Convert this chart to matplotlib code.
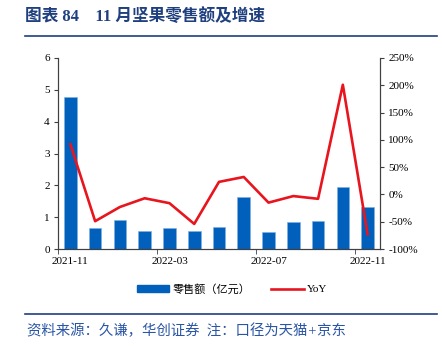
import matplotlib.pyplot as plt
from matplotlib.lines import Line2D
from matplotlib.patches import Patch
from matplotlib.ticker import FuncFormatter

months = ["2021-11", "2021-12", "2022-01", "2022-02", "2022-03", "2022-04", "2022-05",
          "2022-06", "2022-07", "2022-08", "2022-09", "2022-10", "2022-11"]
sales = [4.79, 0.67, 0.91, 0.58, 0.65, 0.56, 0.68, 1.63, 0.54, 0.85, 0.89, 1.94, 1.32]
yoy = [92, -49, -23, -7, -16, -54, 23, 32, -15, -3, -8, 201, -73]
tick_labels = ["2021-11", "2022-03", "2022-07", "2022-11"]

bar_color = "#0060BC"
line_color = "#E8141E"
navy = "#1F3F7F"
serif = ["Liberation Serif", "Noto Sans CJK SC"]

plt.rcParams["font.family"] = serif
plt.rcParams["font.size"] = 8

fig = plt.figure(figsize=(4.42, 3.46), dpi=100)
ax = fig.add_axes([0.1312, 0.2803, 0.7285, 0.5521])
x = list(range(len(months)))
ax.bar(x, sales, width=0.51, color=bar_color, edgecolor="#7FB0E0", linewidth=0.4, zorder=2)
ax.set_ylim(0, 6)
ax.set_xlim(-0.5, len(months) - 0.5)
ax.set_yticks(range(0, 7))

ax2 = ax.twinx()
ax2.plot(x, yoy, color=line_color, linewidth=1.9, zorder=3)
ax2.set_ylim(-100, 250)
ax2.set_yticks(range(-100, 251, 50))
ax2.yaxis.set_major_formatter(FuncFormatter(lambda v, p: f"{int(v)}%"))

ax.set_xticks([0, 4, 8, 12])
ax.set_xticklabels(tick_labels)
ax.set_xticks([-0.5, 3.5, 7.5, 11.5], minor=True)
ax.tick_params(axis="x", which="major", length=0, pad=6)
ax.tick_params(axis="x", which="minor", length=3.5, direction="out", color="#404040")
ax.tick_params(axis="y", length=3, color="#404040", pad=3)
ax2.tick_params(axis="y", length=3, color="#404040", pad=3)

for a in (ax, ax2):
    a.spines["top"].set_visible(False)
    for s in ("left", "right", "bottom"):
        a.spines[s].set_color("#404040")
        a.spines[s].set_linewidth(0.8)

handles = [Patch(facecolor=bar_color, edgecolor=bar_color),
           Line2D([0], [0], color=line_color, linewidth=1.9)]
fig.legend(handles, ["零售额（亿元）", "YoY"], loc="center", bbox_to_anchor=(0.525, 0.1647),
           ncol=2, frameon=False, handlelength=2.9, handleheight=0.55,
           columnspacing=1.9, handletextpad=0.3, fontsize=8)

fig.text(0.057, 0.951, "图表 84    11 月坚果零售额及增速", color=navy, fontsize=12,
         fontweight="bold", va="center", ha="left")
fig.add_artist(Line2D([0.057, 0.989], [0.896, 0.896], color=navy, linewidth=1.2))
fig.add_artist(Line2D([0.057, 0.989], [0.0934, 0.0934], color=navy, linewidth=1.2))
fig.text(0.06, 0.043, "资料来源：久谦，华创证券  注：口径为天猫+京东", color="#2A55A5",
         fontsize=10.4, style="italic", va="center", ha="left")

fig.savefig("out.png", dpi=100)
